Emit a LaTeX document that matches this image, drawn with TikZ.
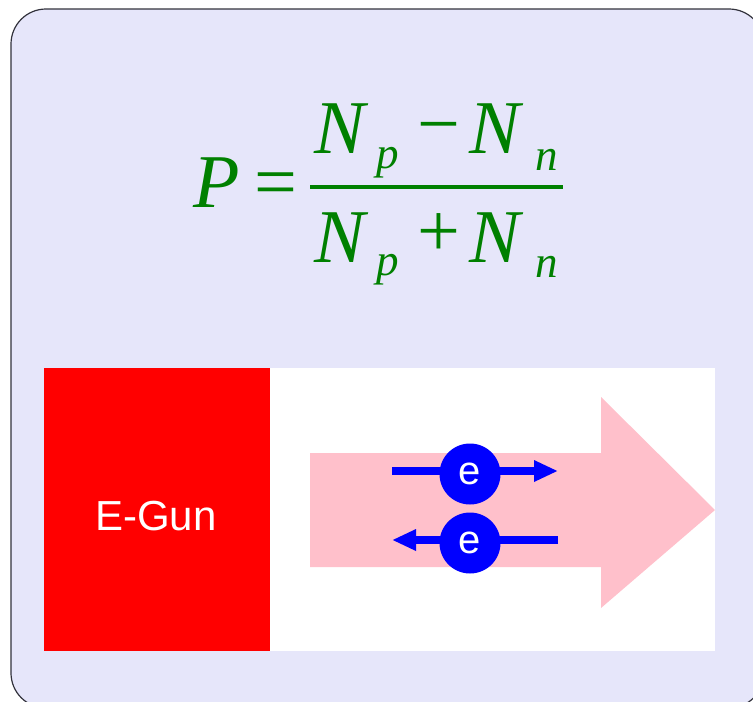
\documentclass[tikz,border=0pt]{standalone}
\usepackage{fontspec}
\setmainfont{Liberation Serif}
\newfontfamily\sansf{Liberation Sans}
\usetikzlibrary{arrows.meta}
\definecolor{lav}{RGB}{230,230,250}
\definecolor{eqgreen}{RGB}{0,128,0}
\definecolor{pinkc}{RGB}{255,192,203}
\definecolor{edge}{RGB}{50,50,60}
\tikzset{
  big/.style={inner sep=0pt, anchor=base west, text=eqgreen, font=\fontsize{76}{80}\selectfont\itshape},
  sub/.style={inner sep=0pt, anchor=base west, text=eqgreen, font=\fontsize{45}{48}\selectfont\itshape},
  op/.style={inner sep=0pt, anchor=base west, text=eqgreen, font=\fontsize{76}{80}\selectfont},
  electron/.style={circle, fill=blue, minimum size=61pt, inner sep=0pt, text=white, font=\sansf\fontsize{40}{44}\selectfont},
  spin/.style={draw=blue, line width=8pt, -{Triangle[length=24pt,width=20pt]}},
}
\begin{document}
\begin{tikzpicture}[x=1pt,y=-1pt]
\useasboundingbox (0,0) rectangle (753,702);
\begin{scope}
\clip (0,0) rectangle (753,702);
\draw[fill=lav, draw=edge, line width=1.2pt, rounded corners=35pt] (11,9) rectangle (764,708);
\end{scope}
% formula
\node[big] (P) at (193,207) {P};
\node[op] (eq) at (254,207) {=};
\node[big] (N1) at (314,153) {N};
\node[sub] (p1) at (376,168) {p};
\node[op] (minus) at (417,149) {−};
\node[big] (N2) at (469,153) {N};
\node[sub] (n1) at (535,170) {n};
\draw[eqgreen, line width=4.5pt] (310,187) -- (563,187);
\node[big] (N3) at (314,262) {N};
\node[sub] (p2) at (376,275) {p};
\node[op] (plus) at (417,256) {+};
\node[big] (N4) at (469,262) {N};
\node[sub] (n2) at (535,277) {n};
% panel
\fill[white] (44,368) rectangle (715,651);
\node[fill=red, minimum width=226pt, minimum height=283pt, inner sep=0pt, anchor=north west] (gun) at (44,368) {};
\node[inner sep=0pt, anchor=base, text=white, font=\sansf\fontsize{42}{46}\selectfont] (gunlabel) at (156,530) {E-Gun};
\fill[pinkc] (310,453) -- (601,453) -- (601,397) -- (715,510) -- (601,608) -- (601,567) -- (310,567) -- cycle;
% electrons
\coordinate (a1s) at (392,471);
\coordinate (a1e) at (558,471);
\coordinate (a2s) at (558,540);
\coordinate (a2e) at (392,540);
\draw[spin] (a1s) -- (a1e);
\draw[spin] (a2s) -- (a2e);
\node[electron] (e1) at (470,474) {e};
\node[electron] (e2) at (470,543) {e};
\end{tikzpicture}
\end{document}
